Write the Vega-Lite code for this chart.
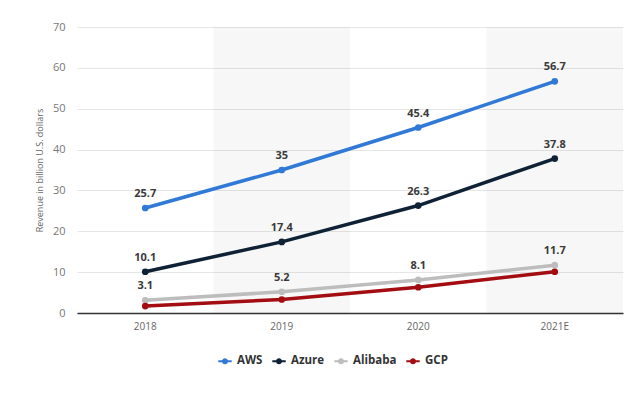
{
  "$schema": "https://vega.github.io/schema/vega-lite/v6.json",
  "width": 546,
  "height": 286,
  "autosize": {"type": "none"},
  "padding": {"left": 77, "top": 27, "right": 17, "bottom": 85},
  "background": "#ffffff",
  "config": {
    "view": {"stroke": null},
    "font": "Open Sans"
  },
  "datasets": {
    "bands": [{"year": "2019", "top": 70}, {"year": "2021E", "top": 70}],
    "rev": [
      {"year": "2018", "series": "AWS", "value": 25.7, "label": "25.7"},
      {"year": "2019", "series": "AWS", "value": 35, "label": "35"},
      {"year": "2020", "series": "AWS", "value": 45.4, "label": "45.4"},
      {"year": "2021E", "series": "AWS", "value": 56.7, "label": "56.7"},
      {"year": "2018", "series": "Azure", "value": 10.1, "label": "10.1"},
      {"year": "2019", "series": "Azure", "value": 17.4, "label": "17.4"},
      {"year": "2020", "series": "Azure", "value": 26.3, "label": "26.3"},
      {"year": "2021E", "series": "Azure", "value": 37.8, "label": "37.8"},
      {"year": "2018", "series": "Alibaba", "value": 3.1, "label": "3.1"},
      {"year": "2019", "series": "Alibaba", "value": 5.2, "label": "5.2"},
      {"year": "2020", "series": "Alibaba", "value": 8.1, "label": "8.1"},
      {"year": "2021E", "series": "Alibaba", "value": 11.7, "label": "11.7"},
      {"year": "2018", "series": "GCP", "value": 1.7, "label": ""},
      {"year": "2019", "series": "GCP", "value": 3.3, "label": ""},
      {"year": "2020", "series": "GCP", "value": 6.3, "label": ""},
      {"year": "2021E", "series": "GCP", "value": 10.1, "label": ""}
    ]
  },
  "layer": [
    {
      "data": {"name": "bands"},
      "mark": {"type": "bar", "fill": "#000000", "fillOpacity": 0.032},
      "encoding": {
        "x": {"field": "year", "type": "nominal"},
        "y": {"field": "top", "type": "quantitative"}
      }
    },
    {
      "data": {"name": "rev"},
      "layer": [
        {
          "mark": {"type": "line", "strokeWidth": 3.5, "point": {"filled": true, "size": 45}},
          "encoding": {
            "x": {"field": "year", "type": "nominal"},
            "y": {"field": "value", "type": "quantitative"},
            "color": {
              "field": "series",
              "type": "nominal",
              "scale": {"domain": ["AWS", "Azure", "Alibaba", "GCP"], "range": ["#3079d6", "#0f2235", "#bdbdbd", "#a30d12"]},
              "legend": {
                "orient": "none",
                "legendX": 141,
                "legendY": 327,
                "direction": "horizontal",
                "title": null,
                "labelFont": "Open Sans",
                "labelFontSize": 11.5,
                "labelFontWeight": "bold",
                "labelColor": "#333333",
                "labelOffset": 5,
                "symbolType": "M-1,-0.14L1,-0.14L1,0.14L-1,0.14Z M0.45,0A0.45,0.45 0 1,1 -0.45,0A0.45,0.45 0 1,1 0.45,0Z",
                "symbolSize": 180,
                "symbolStrokeWidth": 0,
                "columnPadding": 9
              }
            }
          }
        },
        {
          "mark": {"type": "text", "dy": -14, "fontSize": 11, "fontWeight": "bold", "color": "#3a3a3a", "font": "Open Sans"},
          "encoding": {
            "x": {"field": "year", "type": "nominal"},
            "y": {"field": "value", "type": "quantitative"},
            "text": {"field": "label"}
          }
        }
      ]
    }
  ],
  "resolve": {"scale": {"x": "shared", "y": "shared"}},
  "encoding": {
    "x": {
      "field": "year",
      "type": "nominal",
      "scale": {"domain": ["2018", "2019", "2020", "2021E"], "paddingInner": 0, "paddingOuter": 0},
      "axis": {
        "title": null,
        "labelAngle": 0,
        "ticks": false,
        "domainColor": "#333333",
        "domainWidth": 1.5,
        "labelColor": "#666666",
        "labelFontSize": 10,
        "labelPadding": 8,
        "grid": false
      }
    },
    "y": {
      "field": "value",
      "type": "quantitative",
      "scale": {"domain": [0, 70]},
      "axis": {
        "title": "Revenue in billion U.S. dollars",
        "titleFontSize": 9,
        "titleFontWeight": "normal",
        "titleColor": "#666666",
        "titlePadding": 8,
        "values": [0, 10, 20, 30, 40, 50, 60, 70],
        "domain": false,
        "ticks": false,
        "labelColor": "#777777",
        "labelFontSize": 11,
        "labelPadding": 12,
        "gridColor": "#e6e6e6"
      }
    }
  }
}
